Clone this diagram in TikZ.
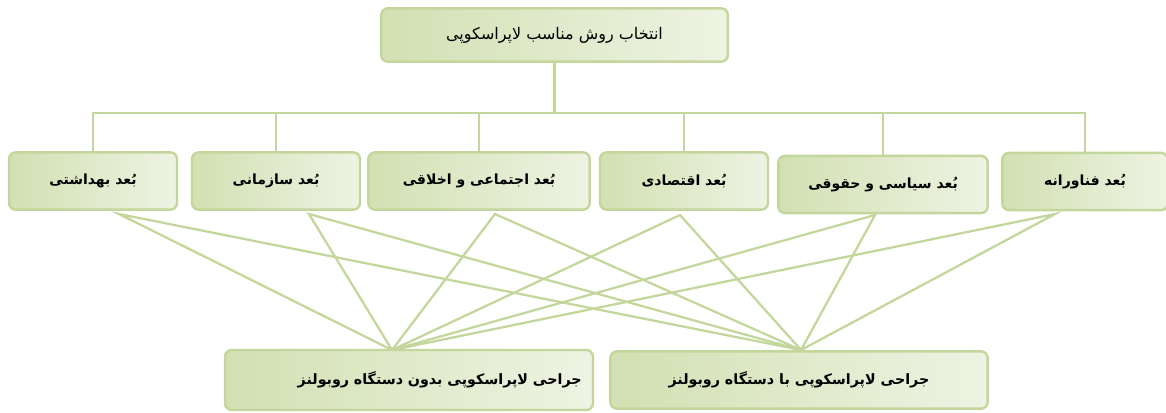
\documentclass[tikz,border=0pt]{standalone}
\usepackage{fontspec}
\usepackage{xcolor}
\usepackage{tikz}
\newfontfamily\arabicfont[Script=Arabic]{DejaVu Sans}
\TeXXeTstate=1
\definecolor{leaf}{HTML}{C3D69B}
\definecolor{leafdark}{HTML}{D2E0B2}
\definecolor{leaflight}{HTML}{EEF3E3}
\newcommand{\fatext}[1]{\arabicfont\beginR #1\endR}
\tikzstyle{box} = [rectangle, rounded corners=5pt, draw=leaf, line width=1.8pt, left color=leafdark, right color=leaflight, inner sep=0pt, text=black]
\tikzstyle{goal} = [box, minimum width=260pt, minimum height=40pt, font=\fontsize{12}{14}\selectfont]
\tikzstyle{crit} = [box, minimum height=43pt, font=\bfseries\fontsize{10.5}{12}\selectfont]
\tikzstyle{choice} = [box, minimum height=43pt, font=\bfseries\fontsize{10.7}{13}\selectfont]
\tikzstyle{link} = [draw=leaf, line width=1.7pt]

\begin{document}
\begin{tikzpicture}[x=0.75pt, y=-0.75pt]
	\useasboundingbox (0,0) rectangle (1166,412);

	\node (goal) [goal] at (554.5,35) {\fatext{انتخاب روش مناسب لاپراسکوپی}};

	\node (n1) [crit, minimum width=126pt] at (93,181) {\fatext{بُعد بهداشتی}};
	\node (n2) [crit, minimum width=126pt] at (276,181) {\fatext{بُعد سازمانی}};
	\node (n3) [crit, minimum width=166pt] at (479,181) {\fatext{بُعد اجتماعی و اخلاقی}};
	\node (n4) [crit, minimum width=126pt] at (684,181) {\fatext{بُعد اقتصادی}};
	\node (n5) [crit, minimum width=157pt] at (883,184.5) {\fatext{بُعد سیاسی و حقوقی}};
	\node (n6) [crit, minimum width=124pt] at (1085,181.5) {\fatext{بُعد فناورانه}};

	\node (a1) [choice, minimum width=276pt, minimum height=45pt, text width=259pt, align=right] at (409,380) {\fatext{جراحی لاپراسکوپی بدون دستگاه روبولنز}};
	\node (a2) [choice, minimum width=283pt] at (799,380) {\fatext{جراحی لاپراسکوپی با دستگاه روبولنز}};

	% tree from the goal to the criteria
	\coordinate (bus) at (0,113);
	\draw [link] (goal.south) -- (goal.south |- bus);
	\draw [link] (n1.north) -- (n1.north |- bus) -- (n6.north |- bus) -- (n6.north);
	\foreach \i in {2,...,5}
		\draw [link] (n\i.north) -- (n\i.north |- bus);

	% every criterion to both alternatives
	\coordinate (s1) at (119,214);
	\coordinate (s2) at (309,214);
	\coordinate (s3) at (495,214);
	\coordinate (s4) at (680,215);
	\coordinate (s5) at (875,215);
	\coordinate (s6) at (1055,214);
	\coordinate (t1) at (392,350);
	\coordinate (t2) at (801,350);
	\foreach \i in {1,...,6}
		\draw [link] (t1) -- (s\i) -- (t2);

\end{tikzpicture}
\end{document}
